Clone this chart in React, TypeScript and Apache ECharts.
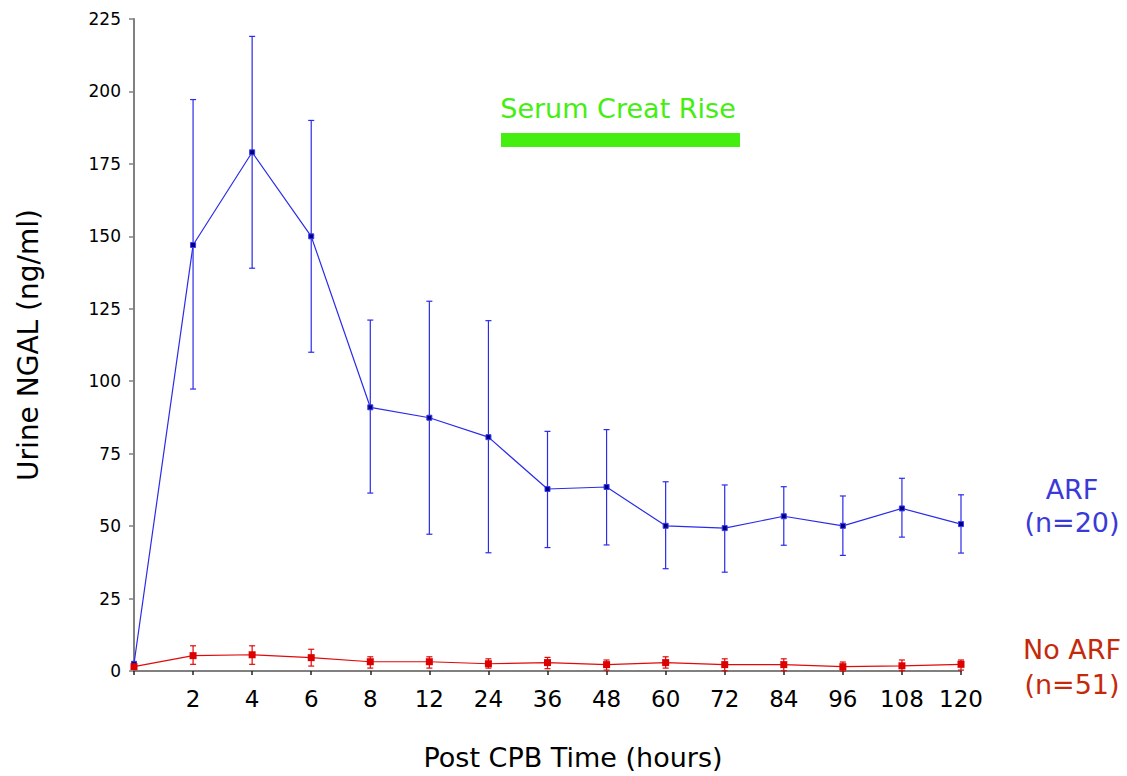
import React, { useEffect, useRef } from "react";
import * as echarts from "echarts";

const hours = ["0", "2", "4", "6", "8", "12", "24", "36", "48", "60", "72", "84", "96", "108", "120"];
const tickLabels = ["", "2", "4", "6", "8", "12", "24", "36", "48", "60", "72", "84", "96", "108", "120"];

const arfMean = [2.5, 147, 179, 150, 91, 87.4, 80.7, 62.8, 63.5, 50.1, 49.3, 53.4, 50.1, 56.1, 50.7];
const arfLow = [2.5, 97.3, 139, 110, 61.4, 47.2, 40.8, 42.6, 43.5, 35.3, 34.1, 43.4, 39.9, 46.2, 40.7];
const arfHigh = [2.5, 197.2, 219, 190, 121.1, 127.6, 120.9, 82.7, 83.3, 65.3, 64.2, 63.6, 60.4, 66.5, 60.8];

const noArfMean = [1.5, 5.3, 5.6, 4.6, 3.2, 3.2, 2.5, 2.9, 2.2, 2.9, 2.2, 2.2, 1.5, 1.8, 2.3];
const noArfLow = [1.5, 2.3, 2.3, 1.7, 1.0, 1.0, 1.0, 0.8, 0.3, 1.0, 0.1, 0.1, 0.0, 0.1, 0.3];
const noArfHigh = [1.5, 8.7, 8.7, 7.5, 4.9, 4.9, 4.2, 4.7, 3.8, 4.9, 4.2, 4.2, 3.1, 3.8, 3.8];

const yTicks = [0, 25, 50, 75, 100, 125, 150, 175, 200, 225];

const FONT = "DejaVu Sans";
const BLUE = "#2b2bea";
const RED = "#e00a0a";

function errorSeries(low: number[], high: number[], color: string, name: string) {
  return {
    type: "custom",
    name,
    data: low.map((l, i) => [i, l, high[i]]),
    encode: { x: 0, y: [1, 2] },
    z: 2,
    renderItem: (params: any, api: any) => {
      const i = api.value(0);
      const lo = api.coord([i, api.value(1)]);
      const hi = api.coord([i, api.value(2)]);
      const w = 3;
      const style = { stroke: color, lineWidth: 1.2 };
      return {
        type: "group",
        children: [
          { type: "line", shape: { x1: lo[0], y1: lo[1], x2: hi[0], y2: hi[1] }, style },
          { type: "line", shape: { x1: hi[0] - w, y1: hi[1], x2: hi[0] + w, y2: hi[1] }, style },
          { type: "line", shape: { x1: lo[0] - w, y1: lo[1], x2: lo[0] + w, y2: lo[1] }, style },
        ],
      };
    },
  };
}

export default function App() {
  const ref = useRef<HTMLDivElement>(null);
  useEffect(() => {
    if (!ref.current) return;
    const chart = echarts.init(ref.current, null, { renderer: "svg" });
    chart.setOption({
      animation: false,
      backgroundColor: "#ffffff",
      grid: { left: 134, right: 166, top: 19, bottom: 105, containLabel: false },
      xAxis: {
        type: "category",
        data: hours,
        boundaryGap: false,
        axisLine: { lineStyle: { color: "#808080", width: 2 } },
        axisTick: { show: true, length: 4, lineStyle: { color: "#222", width: 1.5 } },
        axisLabel: {
          color: "#000",
          fontFamily: FONT,
          fontSize: 23,
          margin: 16,
          formatter: (_v: string, idx: number) => tickLabels[idx],
        },
        splitLine: { show: false },
      },
      yAxis: {
        type: "value",
        min: yTicks[0],
        max: yTicks[yTicks.length - 1],
        interval: 25,
        name: "Urine NGAL (ng/ml)",
        nameLocation: "middle",
        nameRotate: 90,
        nameGap: 92,
        nameTextStyle: { color: "#000", fontFamily: FONT, fontSize: 28 },
        axisLine: { show: true, lineStyle: { color: "#808080", width: 2 } },
        axisTick: { show: true, length: 5, lineStyle: { color: "#808080", width: 1.5 } },
        axisLabel: { color: "#000", fontFamily: FONT, fontSize: 17, margin: 13 },
        splitLine: { show: false },
      },
      series: [
        errorSeries(arfLow, arfHigh, BLUE, "ARF SD"),
        errorSeries(noArfLow, noArfHigh, RED, "No ARF SD"),
        {
          type: "line",
          name: "ARF",
          data: arfMean,
          symbol: "rect",
          symbolSize: 5,
          z: 3,
          lineStyle: { color: BLUE, width: 1.2 },
          itemStyle: { color: "#00007a", borderColor: "#3a3aff", borderWidth: 1 },
        },
        {
          type: "line",
          name: "No ARF",
          data: noArfMean,
          symbol: "rect",
          symbolSize: 7,
          z: 4,
          lineStyle: { color: RED, width: 1.2 },
          itemStyle: { color: "#dd0000" },
        },
      ],
      graphic: [
        {
          type: "text",
          x: 573,
          y: 757,
          style: { text: "Post CPB Time (hours)", fill: "#000", font: `27px "${FONT}"`, align: "center", verticalAlign: "middle" },
        },
        {
          type: "text",
          x: 618,
          y: 108,
          style: { text: "Serum Creat Rise", fill: "#44ee11", font: `27px "${FONT}"`, align: "center", verticalAlign: "middle" },
        },
        {
          type: "rect",
          shape: { x: 501, y: 133, width: 239, height: 14 },
          style: { fill: "#44ee11" },
        },
        {
          type: "text",
          x: 1072,
          y: 506,
          style: { text: "ARF\n(n=20)", fill: "#3a3ad8", font: `27px "${FONT}"`, align: "center", verticalAlign: "middle", lineHeight: 33 },
        },
        {
          type: "text",
          x: 1072,
          y: 667,
          style: { text: "No ARF\n(n=51)", fill: "#c42a0a", font: `27px "${FONT}"`, align: "center", verticalAlign: "middle", lineHeight: 35 },
        },
      ],
    });
    return () => chart.dispose();
  }, []);
  return <div ref={ref} style={{ position: "absolute", left: 0, top: 0, width: 1127, height: 776 }} />;
}
